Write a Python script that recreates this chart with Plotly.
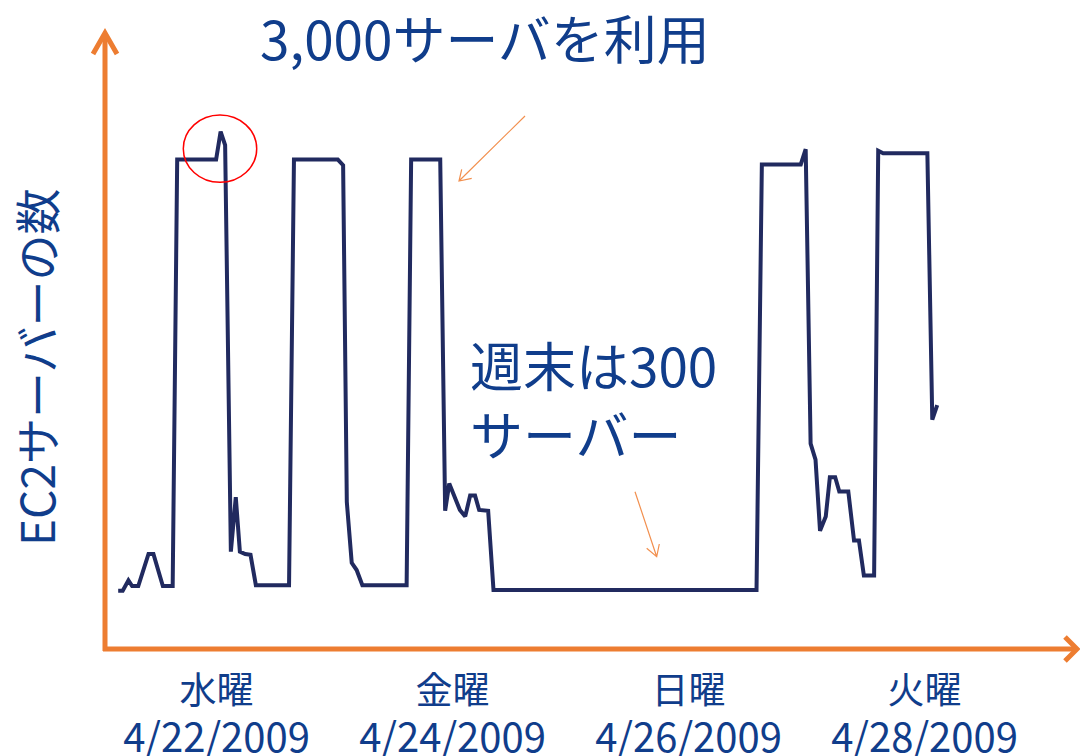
import plotly.graph_objects as go

# ---------------- data ----------------
times = [
    "2009-04-21 04:00", "2009-04-21 04:55", "2009-04-21 06:05", "2009-04-21 06:50",
    "2009-04-21 08:05", "2009-04-21 10:10", "2009-04-21 11:10", "2009-04-21 13:05",
    "2009-04-21 15:05", "2009-04-21 16:00", "2009-04-21 23:55", "2009-04-22 00:50",
    "2009-04-22 01:45", "2009-04-22 02:55", "2009-04-22 03:55", "2009-04-22 04:45",
    "2009-04-22 05:50", "2009-04-22 06:55", "2009-04-22 08:00", "2009-04-22 14:45",
    "2009-04-22 15:45", "2009-04-23 00:40", "2009-04-23 01:45", "2009-04-23 02:30",
    "2009-04-23 03:30", "2009-04-23 04:30", "2009-04-23 05:40", "2009-04-23 14:40",
    "2009-04-23 15:35", "2009-04-23 21:30", "2009-04-23 22:30", "2009-04-23 23:20",
    "2009-04-24 01:30", "2009-04-24 02:35", "2009-04-24 03:35", "2009-04-24 04:35",
    "2009-04-24 05:25", "2009-04-24 07:15", "2009-04-24 08:20", "2009-04-26 13:50",
    "2009-04-26 14:55", "2009-04-26 22:50", "2009-04-26 23:50", "2009-04-27 00:50",
    "2009-04-27 01:50", "2009-04-27 02:45", "2009-04-27 03:55", "2009-04-27 04:45",
    "2009-04-27 05:50", "2009-04-27 06:40", "2009-04-27 08:30", "2009-04-27 09:40",
    "2009-04-27 10:40", "2009-04-27 11:40", "2009-04-27 13:45", "2009-04-27 14:35",
    "2009-04-27 15:35", "2009-04-28 00:35", "2009-04-28 01:35", "2009-04-28 02:35",
]
servers = [
    295, 295, 360, 325, 325, 525, 525, 325,
    325, 2990, 2990, 3165, 3080, 540, 880, 540,
    525, 520, 330, 330, 2990, 2990, 2955, 850,
    470, 425, 330, 330, 2990, 2990, 795, 965,
    800, 760, 890, 890, 800, 795, 300, 300,
    2960, 2960, 3055, 1215, 1115, 670, 760, 1005,
    1005, 915, 915, 610, 610, 390, 390, 3045,
    3030, 3030, 1365, 1455,
]
tick_dates = ["2009-04-22", "2009-04-24", "2009-04-26", "2009-04-28"]
tick_days = ["水曜", "金曜", "日曜", "火曜"]
tick_labels = ["4/22/2009", "4/24/2009", "4/26/2009", "4/28/2009"]
x_range = ["2009-04-21 01:19", "2009-04-29 07:01"]
y_range = [-68.75, 3800]

title_text = "3,000サーバを利用"
y_title = "EC2サーバーの数"
note_lines = ["週末は300", "サーバー"]

# ---------------- styling ----------------
W, H = 1080, 756
ML, MR, MT, MB = 105, 3, 30, 107
PW, PH = W - ML - MR, H - MT - MB
FONT = "Noto Sans CJK JP"
TXT = "#103D8B"
LINE = "#212A5F"
AXIS = "#ED7D31"
THIN = "#F2904F"


def fx(px):
    return (px - ML) / PW


def fy(py):
    return (H - MB - py) / PH


def pth(points, moves=()):
    s = ""
    for i, (a, b) in enumerate(points):
        cmd = "M" if (i == 0 or i in moves) else "L"
        s += f"{cmd}{fx(a):.5f},{fy(b):.5f} "
    return s.strip()


fig = go.Figure()
fig.add_trace(go.Scatter(x=times, y=servers, mode="lines",
                         line=dict(color=LINE, width=4), showlegend=False,
                         hoverinfo="x+y"))
fig.add_trace(go.Scatter(x=tick_dates, y=[None] * len(tick_dates), xaxis="x2",
                         mode="markers", showlegend=False, hoverinfo="skip"))

shapes = [
    # axes
    dict(type="line", xref="paper", yref="paper", x0=fx(103), x1=fx(1076), y0=fy(649), y1=fy(649),
         line=dict(color=AXIS, width=5)),
    dict(type="line", xref="paper", yref="paper", x0=fx(105), x1=fx(105), y0=fy(651), y1=fy(35),
         line=dict(color=AXIS, width=5)),
    dict(type="path", xref="paper", yref="paper", path=pth([(93, 54), (105, 33), (117, 54)]),
         line=dict(color=AXIS, width=5)),
    dict(type="path", xref="paper", yref="paper", path=pth([(1065, 637), (1077, 649), (1065, 661)]),
         line=dict(color=AXIS, width=5)),
    # thin arrows
    dict(type="path", xref="paper", yref="paper",
         path=pth([(525, 116), (459, 181), (461.7, 169.3), (459, 181), (471.7, 178.3)], moves=(2,)),
         line=dict(color=THIN, width=1.2)),
    dict(type="path", xref="paper", yref="paper",
         path=pth([(635, 491.7), (656.7, 556.7), (646.7, 548.3), (656.7, 556.7), (659.3, 544)], moves=(2,)),
         line=dict(color=THIN, width=1.2)),
    # red ellipse
    dict(type="circle", xref="paper", yref="paper", x0=fx(183.3), x1=fx(256.7), y0=fy(182.3), y1=fy(115),
         line=dict(color="#FF0000", width=1.5)),
]

annotations = [
    dict(text=title_text, xref="paper", yref="paper", x=fx(258), y=fy(37), xanchor="left",
         yanchor="middle", showarrow=False, font=dict(family=FONT, size=53, color=TXT)),
    dict(text="<br>".join(note_lines), xref="paper", yref="paper", x=fx(468), y=fy(398),
         xanchor="left", yanchor="middle", align="left", showarrow=False,
         font=dict(family=FONT, size=53, color=TXT)),
    dict(text=y_title, xref="paper", yref="paper", x=fx(35), y=fy(367), xanchor="center",
         yanchor="middle", textangle=-90, showarrow=False, font=dict(family=FONT, size=46, color=TXT)),
]

fig.update_layout(
    width=W, height=H, margin=dict(l=ML, r=MR, t=MT, b=MB, autoexpand=False),
    paper_bgcolor="white", plot_bgcolor="white",
    shapes=shapes, annotations=annotations, showlegend=False,
    xaxis=dict(type="date", range=x_range, showgrid=False, zeroline=False, showline=False,
               automargin=False,
               tickmode="array", tickvals=tick_dates, ticktext=tick_days,
               ticks="outside", ticklen=10, tickcolor="rgba(0,0,0,0)",
               tickfont=dict(family=FONT, size=37, color=TXT)),
    xaxis2=dict(type="date", range=x_range, overlaying="x", anchor="y", side="bottom",
                showgrid=False, zeroline=False, showline=False, automargin=False,
                tickmode="array", tickvals=tick_dates, ticktext=tick_labels,
                ticks="outside", ticklen=54, tickcolor="rgba(0,0,0,0)",
                tickfont=dict(family=FONT, size=40, color=TXT)),
    yaxis=dict(range=y_range, showgrid=False, zeroline=False, showline=False,
               showticklabels=False, ticks="", automargin=False),
)

fig.write_html("out.html")
